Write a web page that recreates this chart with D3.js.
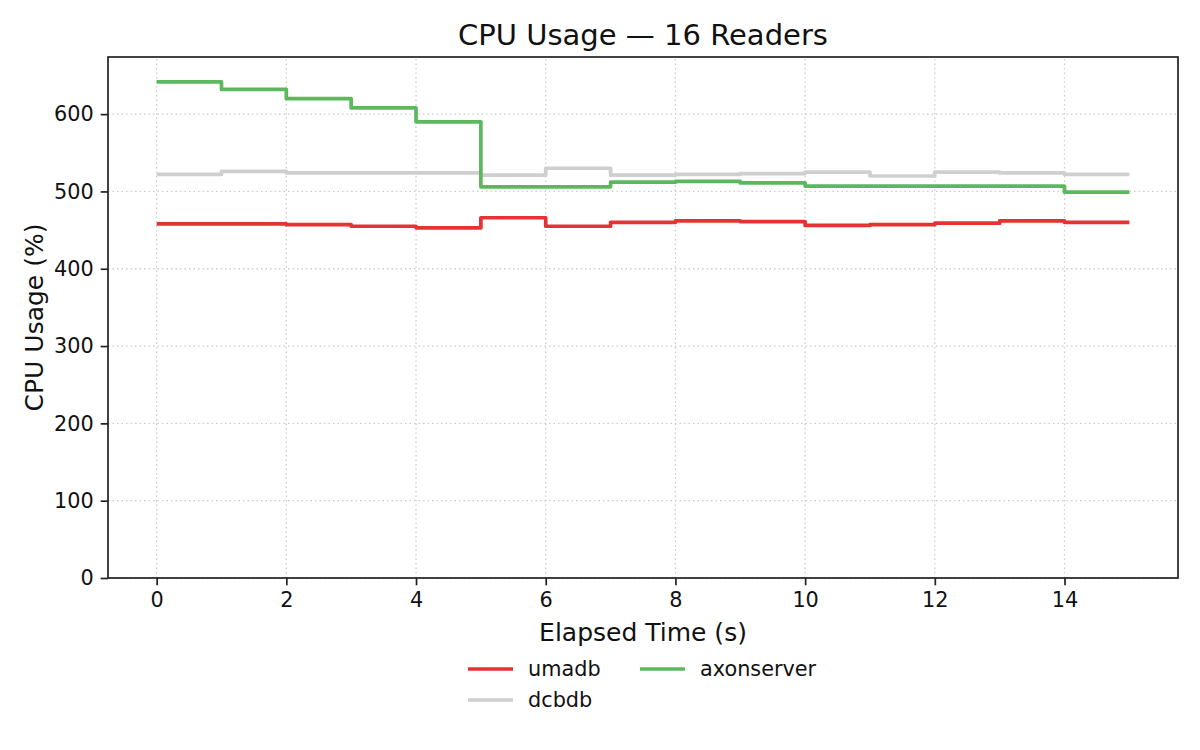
<!DOCTYPE html>
<html>
<head>
<meta charset="utf-8">
<script src="https://cdn.jsdelivr.net/npm/d3@7"></script>
<style>
  body { margin: 0; background: #fff; }
  svg { font-family: "DejaVu Sans", sans-serif; }
</style>
</head>
<body>
<div id="chart"></div>
<script>
// elapsed seconds, one sample per second
const seconds = d3.range(0, 16);
const seriesNames = ["umadb", "dcbdb", "axonserver"];
const seriesColors = ["#e53232", "#cfcfcf", "#5cb85c"];

const umadb = [458, 458, 457, 455, 453, 466, 455, 460, 462, 461, 456, 457, 459, 462, 460, 460];
const dcbdb = [522, 526, 524, 524, 524, 521, 530, 521, 522, 523, 525, 520, 525, 524, 522, 522];
const axonserver = [641.8, 632, 620, 608, 590, 506, 506, 512, 513, 511, 507, 507, 507, 507, 499, 499];

const xTicks = [0, 2, 4, 6, 8, 10, 12, 14];
const yTicks = [0, 100, 200, 300, 400, 500, 600];

const width = 1200;
const height = 750;
const margin = { top: 57, right: 22, bottom: 172, left: 108 };

const svg = d3.select("#chart")
  .append("svg")
  .attr("width", width)
  .attr("height", height);

const x = d3.scaleLinear()
  .domain([-0.75, 15.75])
  .range([margin.left, width - margin.right]);

const yMax = d3.max(axonserver) * 1.05;
const y = d3.scaleLinear()
  .domain([0, yMax])
  .range([height - margin.bottom, margin.top]);

// grid
svg.append("g")
  .selectAll("line")
  .data(xTicks)
  .enter()
  .append("line")
  .attr("x1", d => x(d)).attr("x2", d => x(d))
  .attr("y1", y(0)).attr("y2", y(yMax))
  .attr("stroke", "#cccccc")
  .attr("stroke-width", 1.3)
  .attr("stroke-dasharray", "1.5,3");

svg.append("g")
  .selectAll("line")
  .data(yTicks)
  .enter()
  .append("line")
  .attr("x1", x(-0.75)).attr("x2", x(15.75))
  .attr("y1", d => y(d)).attr("y2", d => y(d))
  .attr("stroke", "#cccccc")
  .attr("stroke-width", 1.3)
  .attr("stroke-dasharray", "1.5,3");

// step lines
const line = d3.line()
  .x((d, i) => x(seconds[i]))
  .y(d => y(d))
  .curve(d3.curveStepAfter);

[umadb, dcbdb, axonserver].forEach((values, i) => {
  svg.append("path")
    .datum(values)
    .attr("fill", "none")
    .attr("stroke", seriesColors[i])
    .attr("stroke-width", 3.7)
    .attr("stroke-linejoin", "round")
    .attr("d", line);
});

// axes
const xAxis = svg.append("g")
  .attr("transform", `translate(0,${height - margin.bottom})`)
  .call(d3.axisBottom(x).tickValues(xTicks).tickSize(7.3).tickPadding(7));

const yAxis = svg.append("g")
  .attr("transform", `translate(${margin.left},0)`)
  .call(d3.axisLeft(y).tickValues(yTicks).tickSize(7.3).tickPadding(7));

[xAxis, yAxis].forEach(g => {
  g.select(".domain").remove();
  g.selectAll(".tick line").attr("stroke", "#222").attr("stroke-width", 1.7);
  g.selectAll(".tick text")
    .attr("fill", "#111")
    .style("font-size", "20.8px")
    .style("font-family", "DejaVu Sans");
});

// frame
svg.append("rect")
  .attr("x", x(-0.75))
  .attr("y", y(yMax))
  .attr("width", x(15.75) - x(-0.75))
  .attr("height", y(0) - y(yMax))
  .attr("fill", "none")
  .attr("stroke", "#222")
  .attr("stroke-width", 1.7);

// titles
svg.append("text")
  .attr("x", (x(-0.75) + x(15.75)) / 2)
  .attr("y", 45)
  .attr("text-anchor", "middle")
  .style("font-size", "29px")
  .attr("fill", "#111")
  .text("CPU Usage — 16 Readers");

svg.append("text")
  .attr("x", (x(-0.75) + x(15.75)) / 2)
  .attr("y", 641)
  .attr("text-anchor", "middle")
  .style("font-size", "25px")
  .attr("fill", "#111")
  .text("Elapsed Time (s)");

svg.append("text")
  .attr("transform", `translate(43,${(y(0) + y(yMax)) / 2}) rotate(-90)`)
  .attr("text-anchor", "middle")
  .style("font-size", "25px")
  .attr("fill", "#111")
  .text("CPU Usage (%)");

// legend, two columns filled row by row
const legendOrder = [0, 2, 1];
const legend = svg.append("g");
legendOrder.forEach((s, k) => {
  const col = k % 2;
  const row = Math.floor(k / 2);
  const lx = 468 + col * 172;
  const ly = 669 + row * 31;
  legend.append("line")
    .attr("x1", lx).attr("x2", lx + 45)
    .attr("y1", ly).attr("y2", ly)
    .attr("stroke", seriesColors[s])
    .attr("stroke-width", 3.7);
  legend.append("text")
    .attr("x", lx + 60)
    .attr("y", ly)
    .attr("dy", "0.35em")
    .style("font-size", "20.8px")
    .attr("fill", "#111")
    .text(seriesNames[s]);
});
</script>
</body>
</html>
